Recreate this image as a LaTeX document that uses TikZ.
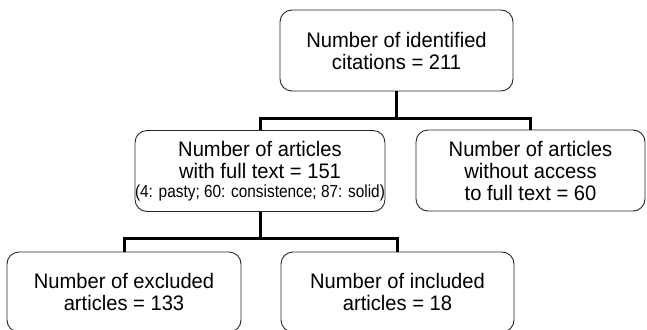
\documentclass[tikz,border=0pt]{standalone}
\usepackage{fontspec}
\setmainfont{Liberation Sans}[FakeStretch=0.96]
\newfontfamily\narrowfont{Liberation Sans}[FakeStretch=0.88]
\begin{document}
\begin{tikzpicture}[x=1pt,y=-1pt,
  box/.style={draw=black!85, line width=0.9pt, rounded corners=12pt, align=center,
    inner sep=0pt, font=\fontsize{21}{22}\selectfont},
  conn/.style={line width=3pt, line join=miter}]
\useasboundingbox (0,0) rectangle (647,329);
\clip (0,0) rectangle (647,329);
\node[box, minimum width=233pt, minimum height=81pt] (top) at (396.5,50.5)
  {Number of identified\\citations = 211};
\node[box, minimum width=248pt, minimum height=81pt] (ml) at (260,171)
  {Number of articles\\with full text = 151\\[-3pt]{\narrowfont\fontsize{17.5}{19}\selectfont (4: pasty; 60: consistence; 87: solid)}};
\node[box, minimum width=229pt, minimum height=81pt] (mr) at (530.5,170.5)
  {Number of articles\\without access\\to full text = 60};
\node[box, minimum width=234pt, minimum height=80pt] (bl) at (124,292)
  {Number of excluded\\articles = 133};
\node[box, minimum width=233pt, minimum height=80pt] (br) at (397.5,292)
  {Number of included\\articles = 18};
\coordinate (y1) at (0,118);
\coordinate (y2) at (0,238);
\draw[conn] (top.south) -- (top.south |- y1);
\draw[conn] (ml.north) -- (ml.north |- y1) -- (mr.north |- y1) -- (mr.north);
\draw[conn] (ml.south) -- (ml.south |- y2);
\draw[conn] (bl.north) -- (bl.north |- y2) -- (br.north |- y2) -- (br.north);
\end{tikzpicture}
\end{document}
